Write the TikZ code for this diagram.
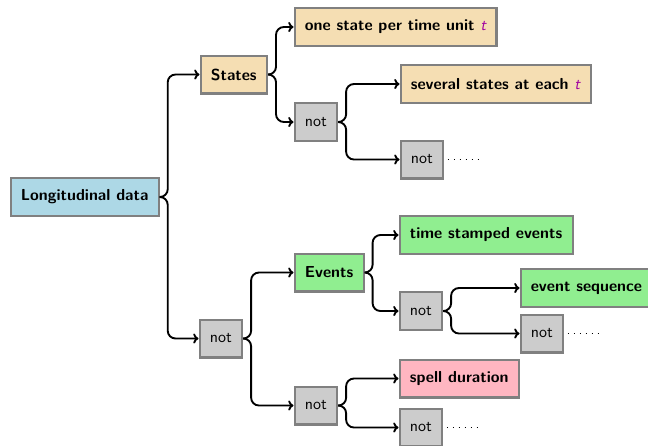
\documentclass[tikz,border=0pt]{standalone}
\usetikzlibrary{arrows.meta}
\definecolor{cblue}{RGB}{173,216,230}
\definecolor{cwheat}{RGB}{245,222,179}
\definecolor{cgreen}{RGB}{144,238,144}
\definecolor{cpink}{RGB}{255,182,193}
\definecolor{cgrey}{RGB}{204,204,204}
\definecolor{cborder}{RGB}{128,128,128}
\definecolor{tcol}{RGB}{160,0,160}
\newcommand{\tvar}{\textcolor{tcol}{\mdseries\itshape t}}
\tikzset{
  box/.style={draw=cborder, line width=1.3pt, anchor=west, minimum height=24.3pt, inner xsep=6.6pt, font=\fontsize{10.2pt}{12pt}\selectfont\sffamily\bfseries},
  bluebox/.style={box, fill=cblue},
  wheatbox/.style={box, fill=cwheat},
  greenbox/.style={box, fill=cgreen},
  pinkbox/.style={box, fill=cpink},
  notbox/.style={box, fill=cgrey, font=\fontsize{10.2pt}{12pt}\selectfont\sffamily},
  conn/.style={line width=1.2pt, rounded corners=5pt, -{To[length=3.4pt,width=6.5pt]}},
  dots/.style={line width=0.6pt, dash pattern=on 0.6pt off 3.2pt},
}
\begin{document}
\begin{tikzpicture}[x=0.64pt,y=-0.64pt]
\useasboundingbox (0,0) rectangle (648,445);
\node[bluebox] (root) at (9.5,197) {Longitudinal data};
\node[wheatbox] (states) at (199.5,74.5) {States};
\node[wheatbox] (one) at (293.5,27) {one state per time unit \tvar};
\node[notbox] (nots) at (293.5,122) {not};
\node[wheatbox] (several) at (399.5,84) {several states at each \tvar};
\node[notbox] (nots2) at (399.5,159.5) {not};
\node[notbox] (not1) at (198.5,338.5) {not};
\node[greenbox] (events) at (293.5,272.5) {Events};
\node[greenbox] (tse) at (398.5,235) {time stamped events};
\node[notbox] (note) at (398.5,311) {not};
\node[greenbox] (evseq) at (519.5,288) {event sequence};
\node[notbox] (note2) at (519.5,333.5) {not};
\node[notbox] (notb) at (293.5,405.5) {not};
\node[pinkbox] (spell) at (398.5,378.5) {spell duration};
\node[notbox] (notb2) at (398.5,427.5) {not};

\coordinate (d1) at ([xshift=34*0.64pt]nots2.east);
\coordinate (d2) at ([xshift=34*0.64pt]note2.east);
\coordinate (d3) at ([xshift=34*0.64pt]notb2.east);

\foreach \a/\b in {root/states, root/not1, states/one, states/nots, nots/several, nots/nots2,
  not1/events, not1/notb, events/tse, events/note, note/evseq, note/note2, notb/spell, notb/notb2}
  \draw[conn] (\a.east) -- ++(8,0) |- (\b.west);

\draw[dots] ([xshift=2.4pt]nots2.east) -- (d1);
\draw[dots] ([xshift=2.4pt]note2.east) -- (d2);
\draw[dots] ([xshift=2.4pt]notb2.east) -- (d3);
\end{tikzpicture}
\end{document}
